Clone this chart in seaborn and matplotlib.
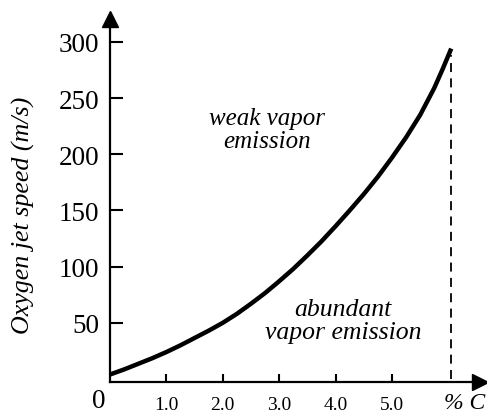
import numpy as np
import pandas as pd
import seaborn as sns
import matplotlib.pyplot as plt

# carbon content (%C) and oxygen jet speed
carbon = [0.0, 0.25, 0.5, 0.75, 1.0, 1.25, 1.5, 1.75, 2.0, 2.25, 2.5, 2.75,
          3.0, 3.25, 3.5, 3.75, 4.0, 4.25, 4.5, 4.75, 5.0, 5.25, 5.5, 5.75,
          5.9, 6.05]
speed = [4, 8.5, 13.5, 18.5, 24, 30, 36.5, 43, 50, 58, 67, 76.5,
         87, 98, 110, 122.5, 136, 150, 164.5, 180, 197, 215, 235, 259,
         276, 294]

limit_c = 6.05
limit_top = 288

x_ticks = [1, 2, 3, 4, 5]
x_labels = ["1.0", "2.0", "3.0", "4.0", "5.0"]
y_ticks = [50, 100, 150, 200, 250, 300]

sns.set_style("ticks")
plt.rcParams['font.family'] = ['Liberation Serif', 'DejaVu Serif']
plt.rcParams['text.color'] = 'black'
plt.rcParams['axes.labelcolor'] = 'black'

df = pd.DataFrame({'carbon': carbon, 'speed': speed})

fig = plt.figure(figsize=(4.87, 4.14), dpi=100)
ax = fig.add_axes([110 / 487, 31 / 414, 370 / 487, 363 / 414])

sns.lineplot(data=df, x='carbon', y='speed', ax=ax, color='black',
             linewidth=3.2, solid_capstyle='butt')
ax.vlines(limit_c, 0, limit_top, colors='black', linewidth=1.3,
          linestyles=(0, (5, 3.5)))

ax.set_xlim(0, 6.56)
ax.set_ylim(-2.67, 320.3)

sns.despine(ax=ax)
for s in ['left', 'bottom']:
    ax.spines[s].set_linewidth(1.6)
    ax.spines[s].set_color('black')

# axis arrows
ax.plot(1, 0, '>k', markersize=11, transform=ax.transAxes, clip_on=False)
ax.plot(0, 1, '^k', markersize=11, transform=ax.transAxes, clip_on=False)

ax.set_xticks(x_ticks)
ax.set_xticklabels(x_labels)
ax.set_yticks(y_ticks)
ax.tick_params(axis='y', direction='in', length=9, width=1.5, pad=8,
               labelsize=19.5, colors='black')
ax.tick_params(axis='x', direction='in', length=6, width=1.5, pad=10,
               labelsize=14, colors='black')

ax.set_xlabel('')
ax.set_ylabel('Oxygen jet speed (m/s)', fontsize=18.7, style='italic',
              color='black')
ax.yaxis.set_label_coords(-0.203, 0.463)

ax.text(-0.195, -29.9, '0', fontsize=19.5, ha='center', va='bottom',
        color='black')
ax.text(6.29, -12, '% C', fontsize=17, ha='center', va='top',
        style='italic', color='black')

ax.text(2.78, 222, 'weak vapor\nemission', fontsize=18, style='italic',
        ha='center', va='center', linespacing=1.05, color='black')
ax.text(4.13, 52, 'abundant\nvapor emission', fontsize=18.5, style='italic',
        ha='center', va='center', linespacing=1.1, color='black')

fig.savefig('out.png', dpi=100, facecolor='white')
